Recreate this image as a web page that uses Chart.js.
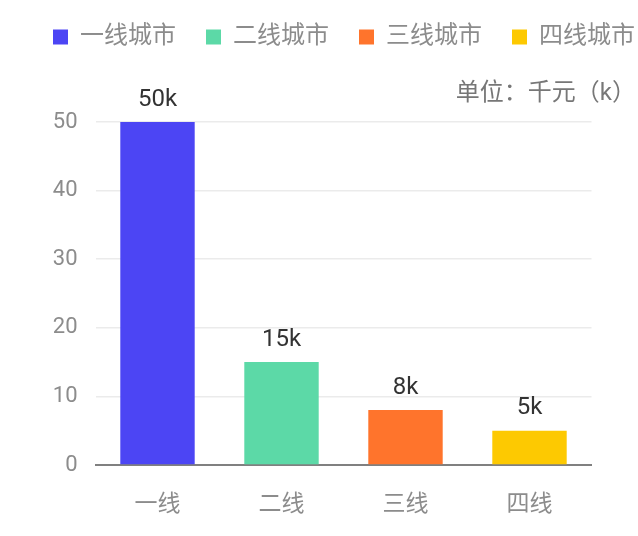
<!DOCTYPE html>
<html>
<head>
<meta charset="utf-8">
<script src="https://cdn.jsdelivr.net/npm/chart.js@4.4.1/dist/chart.umd.min.js"></script>
<style>
  html, body { margin: 0; padding: 0; background: #fff; }
  canvas { display: block; }
</style>
</head>
<body>
<canvas id="myChart" width="638" height="536"></canvas>
<script>
// data
const categories = ["一线", "二线", "三线", "四线"];
const legendNames = ["一线城市", "二线城市", "三线城市", "四线城市"];
const amounts = [50, 15, 8, 5];
const barColors = ["#4c45f4", "#5cd9a7", "#ff742c", "#fdc901"];
const unitText = "单位：千元（k）";

const fontFamily = "Roboto, 'Noto Sans CJK SC', sans-serif";

// value labels over the bars
const valueLabels = {
    id: "valueLabels",
    afterDatasetsDraw(chart) {
        const ctx = chart.ctx;
        const meta = chart.getDatasetMeta(0);
        ctx.save();
        ctx.font = "24px " + fontFamily;
        ctx.fillStyle = "#333";
        ctx.textAlign = "center";
        ctx.textBaseline = "middle";
        meta.data.forEach((bar, i) => {
            ctx.fillText(amounts[i] + "k", bar.x, bar.y - 22.5);
        });
        ctx.restore();
    },
};

// pull the unit text back inside the canvas
const unitPos = {
    id: "unitPos",
    afterLayout(chart) {
        if (chart.titleBlock) {
            chart.titleBlock.right = chart.chartArea.right + 44.5;
        }
    },
};

const config = {
    type: "bar",
    data: {
        labels: categories,
        datasets: [
            {
                data: amounts,
                backgroundColor: barColors,
                borderWidth: 0,
                barPercentage: 0.6,
                categoryPercentage: 1,
            },
        ],
    },
    options: {
        responsive: false,
        devicePixelRatio: 1,
        animation: false,
        layout: {
            padding: { top: -5, left: 23, right: -27, bottom: 0 },
        },
        plugins: {
            legend: {
                position: "top",
                align: "start",
                onClick: null,
                labels: {
                    boxWidth: 15,
                    boxHeight: 15,
                    padding: 30,
                    color: "#8c8c8c",
                    font: { size: 24, family: fontFamily },
                    generateLabels() {
                        return legendNames.map((name, i) => ({
                            text: name,
                            fillStyle: barColors[i],
                            strokeStyle: barColors[i],
                            lineWidth: 0,
                            hidden: false,
                            index: i,
                            fontColor: "#8c8c8c",
                        }));
                    },
                },
            },
            title: {
                display: true,
                text: unitText,
                align: "end",
                weight: 500,
                color: "#777",
                font: { size: 24, weight: "normal", family: fontFamily },
                padding: { top: 20.6, bottom: 13.6 },
            },
            tooltip: { enabled: false },
        },
        scales: {
            x: {
                grid: { display: false, drawTicks: false },
                border: { display: true, color: "#808080", width: 2 },
                ticks: {
                    color: "#8c8c8c",
                    padding: 26.7,
                    font: { size: 23, family: fontFamily },
                },
                afterFit(scale) {
                    scale.height = 71;
                },
            },
            y: {
                min: 0,
                max: 50,
                grid: {
                    drawTicks: false,
                    color: (c) => (c.tick.value === 0 ? "rgba(0,0,0,0)" : "#ebebeb"),
                    lineWidth: 1.5,
                },
                border: { display: false },
                ticks: {
                    stepSize: 10,
                    color: "#8c8c8c",
                    padding: 18,
                    font: { size: 22, family: fontFamily },
                },
                afterFit(scale) {
                    scale.width = 72.5;
                },
            },
            y2: {
                position: "right",
                grid: { display: false },
                border: { display: false },
                ticks: { display: false },
                afterFit(scale) {
                    scale.width = 73.5;
                },
            },
        },
    },
    plugins: [valueLabels, unitPos],
};

var myChart = new Chart(document.getElementById("myChart"), config);
</script>
</body>
</html>
